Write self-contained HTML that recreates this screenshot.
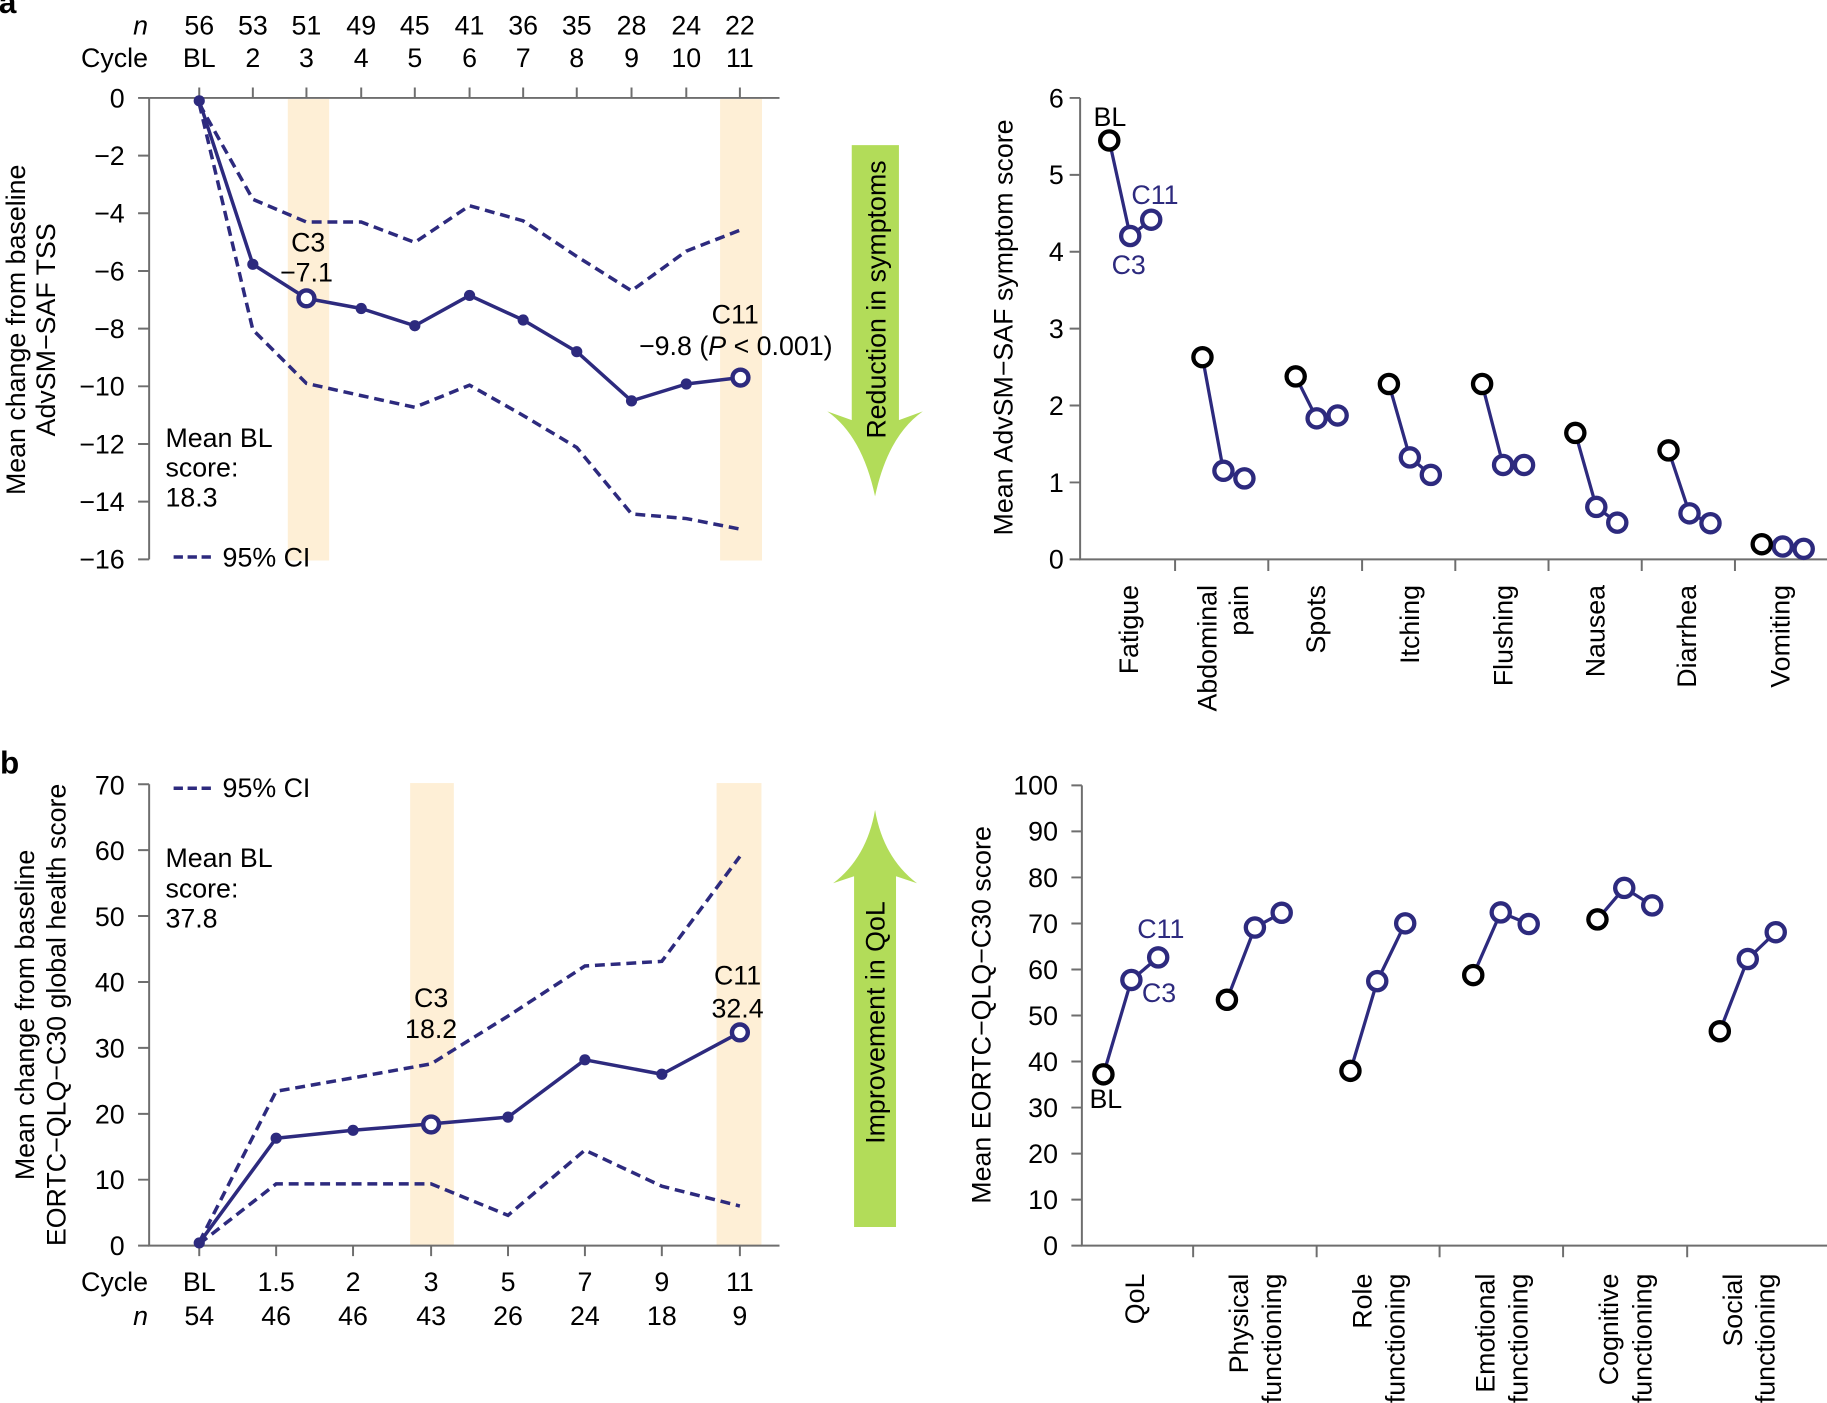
<!DOCTYPE html>
<html>
<head>
<meta charset="utf-8">
<style>
html,body{margin:0;padding:0;background:#fff;}
svg{display:block;}
text{font-family:"Liberation Sans",Arial,sans-serif;font-size:23px;fill:#000;}
.blue{fill:#2d2a7e;}
.ax{stroke:#6e6e6e;stroke-width:1.7;fill:none;}
.ml{stroke:#2d2a7e;stroke-width:3;fill:none;stroke-linejoin:round;}
.ci{stroke:#2d2a7e;stroke-width:3;fill:none;stroke-dasharray:8.5 5;}
.dot{fill:#2d2a7e;}
.oc{fill:#fff;stroke:#2d2a7e;stroke-width:3.8;}
.rl{stroke:#2d2a7e;stroke-width:2.8;fill:none;}
.bc{fill:#fff;stroke:#000;stroke-width:3.7;}
.bb{fill:#fff;stroke:#2d2a7e;stroke-width:3.7;}
.bar{fill:#feefd6;}
.arr{fill:#b2dc59;}
</style>
</head>
<body>
<svg width="1827" height="1403" viewBox="0 0 1568 1204" xmlns="http://www.w3.org/2000/svg">
<rect x="0" y="0" width="1568" height="1204" fill="#fff"/>

<!-- ================= PANEL A LEFT ================= -->
<text x="-1" y="11" style="font-weight:bold;font-size:27px">a</text>

<rect class="bar" x="247" y="85" width="35.5" height="396"/>
<rect class="bar" x="618" y="85" width="36" height="396"/>

<!-- top axis -->
<path class="ax" d="M128,84 H669 M128,84 V480"/>
<path class="ax" d="M171,84 V75 M217,84 V75 M263,84 V75 M310,84 V75 M356,84 V75 M403,84 V75 M449,84 V75 M495,84 V75 M542,84 V75 M589,84 V75 M635,84 V75"/>
<path class="ax" d="M118.5,84 H128 M118.5,133.5 H128 M118.5,183 H128 M118.5,232.5 H128 M118.5,282 H128 M118.5,331.5 H128 M118.5,381 H128 M118.5,430.5 H128 M118.5,480 H128"/>

<g text-anchor="end">
<text x="107" y="92">0</text>
<text x="107" y="141.5">−2</text>
<text x="107" y="191">−4</text>
<text x="107" y="240.5">−6</text>
<text x="107" y="290">−8</text>
<text x="107" y="339.5">−10</text>
<text x="107" y="389">−12</text>
<text x="107" y="438.5">−14</text>
<text x="107" y="488">−16</text>
<text x="127" y="29.5" style="font-style:italic">n</text>
<text x="127" y="57.5">Cycle</text>
</g>
<g text-anchor="middle">
<text x="171" y="29.5">56</text><text x="217" y="29.5">53</text><text x="263" y="29.5">51</text><text x="310" y="29.5">49</text><text x="356" y="29.5">45</text><text x="403" y="29.5">41</text><text x="449" y="29.5">36</text><text x="495" y="29.5">35</text><text x="542" y="29.5">28</text><text x="589" y="29.5">24</text><text x="635" y="29.5">22</text>
<text x="171" y="57.5">BL</text><text x="217" y="57.5">2</text><text x="263" y="57.5">3</text><text x="310" y="57.5">4</text><text x="356" y="57.5">5</text><text x="403" y="57.5">6</text><text x="449" y="57.5">7</text><text x="495" y="57.5">8</text><text x="542" y="57.5">9</text><text x="589" y="57.5">10</text><text x="635" y="57.5">11</text>
</g>

<!-- CI lines -->
<polyline class="ci" points="171,89 217,171 263,190.5 310,190.5 356,208 403,176.5 449,189.5 495,220 542,249.5 589,215.5 635,197.5"/>
<polyline class="ci" points="171,89 217,283 263,329 310,339.5 356,349.5 403,330.5 449,356.5 495,384 542,441 589,445 635,454"/>
<!-- main -->
<polyline class="ml" points="171,86.5 217,226.8 263,256 310,264.7 356,279.5 403,253.5 449,274.6 495,301.8 542,344 589,329.5 635,324"/>
<circle class="dot" cx="171" cy="86.5" r="4.8"/>
<circle class="dot" cx="217" cy="226.8" r="4.8"/>
<circle class="dot" cx="310" cy="264.7" r="4.8"/>
<circle class="dot" cx="356" cy="279.5" r="4.8"/>
<circle class="dot" cx="403" cy="253.5" r="4.8"/>
<circle class="dot" cx="449" cy="274.6" r="4.8"/>
<circle class="dot" cx="495" cy="301.8" r="4.8"/>
<circle class="dot" cx="542" cy="344" r="4.8"/>
<circle class="dot" cx="589" cy="329.5" r="4.8"/>
<circle class="oc" cx="263" cy="256" r="6.8"/>
<circle class="oc" cx="635.5" cy="324" r="6.8"/>

<g text-anchor="middle">
<text x="264.5" y="216">C3</text>
<text x="263" y="241.5">−7.1</text>
<text x="631" y="277.5">C11</text>
<text x="631.5" y="304.5">−9.8 (<tspan style="font-style:italic">P</tspan> &lt; 0.001)</text>
</g>
<text x="142" y="383.5">Mean BL</text>
<text x="142" y="409">score:</text>
<text x="142" y="434.5">18.3</text>
<path d="M149,478 H181" stroke="#2d2a7e" stroke-width="3" stroke-dasharray="8 4"/>
<text x="191" y="486">95% CI</text>

<g text-anchor="middle">
<text transform="translate(21.5,283) rotate(-90)">Mean change from baseline</text>
<text transform="translate(47,283) rotate(-90)">AdvSM−SAF TSS</text>
</g>

<!-- Down arrow -->
<path class="arr" d="M731,124.5 L771.5,124.5 L771.5,360.5 L792,353 Q762,374 751,426 Q740,374 710,353 L731,360.5 Z"/>
<text transform="translate(760,257) rotate(-90)" text-anchor="middle">Reduction in symptoms</text>

<!-- ================= PANEL A RIGHT ================= -->
<path class="ax" d="M927,84 V480 H1568"/>
<path class="ax" d="M918,84 H927 M918,150 H927 M918,216 H927 M918,282 H927 M918,348 H927 M918,414 H927 M918,480 H927"/>
<path class="ax" d="M1008.5,480 V490 M1088.5,480 V490 M1169,480 V490 M1249,480 V490 M1329,480 V490 M1409,480 V490 M1489,480 V490"/>
<g text-anchor="end">
<text x="913" y="92">6</text>
<text x="913" y="158">5</text>
<text x="913" y="224">4</text>
<text x="913" y="290">3</text>
<text x="913" y="356">2</text>
<text x="913" y="422">1</text>
<text x="913" y="488">0</text>
</g>
<text transform="translate(869,281) rotate(-90)" text-anchor="middle">Mean AdvSM−SAF symptom score</text>

<g text-anchor="end">
<text transform="translate(976.5,502) rotate(-90)">Fatigue</text>
<text transform="translate(1044,502) rotate(-90)">Abdominal</text>
<text transform="translate(1071,502) rotate(-90)">pain</text>
<text transform="translate(1137,502) rotate(-90)">Spots</text>
<text transform="translate(1218,502) rotate(-90)">Itching</text>
<text transform="translate(1298,502) rotate(-90)">Flushing</text>
<text transform="translate(1377,502) rotate(-90)">Nausea</text>
<text transform="translate(1455.5,502) rotate(-90)">Diarrhea</text>
<text transform="translate(1536,502) rotate(-90)">Vomiting</text>
</g>

<!-- series -->
<polyline class="rl" points="952,120.5 970,202.5 988,188.5"/>
<polyline class="rl" points="1032,306.5 1050,404 1068,410.5"/>
<polyline class="rl" points="1112,323 1130,359 1148,356.5"/>
<polyline class="rl" points="1192,329.5 1210,392.5 1228,407.5"/>
<polyline class="rl" points="1272,329.5 1290,399 1308,399"/>
<polyline class="rl" points="1352,371.5 1370,435 1388,448.5"/>
<polyline class="rl" points="1432,386.5 1450,440.5 1468,449"/>
<polyline class="rl" points="1512,467 1530,469 1548,471"/>

<circle class="bb" cx="970" cy="202.5" r="7.8"/><circle class="bb" cx="988" cy="188.5" r="7.8"/><circle class="bc" cx="952" cy="120.5" r="7.8"/>
<circle class="bb" cx="1050" cy="404" r="7.8"/><circle class="bb" cx="1068" cy="410.5" r="7.8"/><circle class="bc" cx="1032" cy="306.5" r="7.8"/>
<circle class="bb" cx="1130" cy="359" r="7.8"/><circle class="bb" cx="1148" cy="356.5" r="7.8"/><circle class="bc" cx="1112" cy="323" r="7.8"/>
<circle class="bb" cx="1210" cy="392.5" r="7.8"/><circle class="bb" cx="1228" cy="407.5" r="7.8"/><circle class="bc" cx="1192" cy="329.5" r="7.8"/>
<circle class="bb" cx="1290" cy="399" r="7.8"/><circle class="bb" cx="1308" cy="399" r="7.8"/><circle class="bc" cx="1272" cy="329.5" r="7.8"/>
<circle class="bb" cx="1370" cy="435" r="7.8"/><circle class="bb" cx="1388" cy="448.5" r="7.8"/><circle class="bc" cx="1352" cy="371.5" r="7.8"/>
<circle class="bb" cx="1450" cy="440.5" r="7.8"/><circle class="bb" cx="1468" cy="449" r="7.8"/><circle class="bc" cx="1432" cy="386.5" r="7.8"/>
<circle class="bb" cx="1548" cy="471" r="7.8"/><circle class="bb" cx="1530" cy="469" r="7.8"/><circle class="bc" cx="1512" cy="467" r="7.8"/>

<text x="938.5" y="108">BL</text>
<text x="971" y="175" class="blue">C11</text>
<text x="954" y="235" class="blue">C3</text>

<!-- ================= PANEL B LEFT ================= -->
<text x="0" y="664" style="font-weight:bold;font-size:27px">b</text>

<rect class="bar" x="352" y="672" width="37.5" height="397"/>
<rect class="bar" x="615" y="672" width="38.5" height="397"/>

<path class="ax" d="M128,673 V1069 H669"/>
<path class="ax" d="M118.5,673 H128 M118.5,729.6 H128 M118.5,786.1 H128 M118.5,842.7 H128 M118.5,899.3 H128 M118.5,955.9 H128 M118.5,1012.4 H128 M118.5,1069 H128"/>
<path class="ax" d="M171,1069 V1078 M237,1069 V1078 M303,1069 V1078 M370,1069 V1078 M436,1069 V1078 M502,1069 V1078 M568,1069 V1078 M635,1069 V1078"/>
<g text-anchor="end">
<text x="107" y="682">70</text>
<text x="107" y="738">60</text>
<text x="107" y="794.5">50</text>
<text x="107" y="851">40</text>
<text x="107" y="907.5">30</text>
<text x="107" y="964">20</text>
<text x="107" y="1020.5">10</text>
<text x="107" y="1077">0</text>
<text x="127" y="1108">Cycle</text>
<text x="127" y="1137" style="font-style:italic">n</text>
</g>
<g text-anchor="middle">
<text x="171" y="1108">BL</text><text x="237" y="1108">1.5</text><text x="303" y="1108">2</text><text x="370" y="1108">3</text><text x="436" y="1108">5</text><text x="502" y="1108">7</text><text x="568" y="1108">9</text><text x="635" y="1108">11</text>
<text x="171" y="1137">54</text><text x="237" y="1137">46</text><text x="303" y="1137">46</text><text x="370" y="1137">43</text><text x="436" y="1137">26</text><text x="502" y="1137">24</text><text x="568" y="1137">18</text><text x="635" y="1137">9</text>
</g>

<polyline class="ci" points="171,1066 237,936.5 303,925 370,913 436,872 502,829 568,825 635,735"/>
<polyline class="ci" points="171,1067.5 237,1016 303,1016 370,1016 436,1043 502,987 568,1018 635,1035"/>
<polyline class="ml" points="171,1066.7 237,976.8 303,970 370,964.5 436,958.7 502,909.5 568,921.9 635,886"/>
<circle class="dot" cx="171" cy="1066.7" r="4.8"/>
<circle class="dot" cx="237" cy="976.8" r="4.8"/>
<circle class="dot" cx="303" cy="970" r="4.8"/>
<circle class="dot" cx="436" cy="958.7" r="4.8"/>
<circle class="dot" cx="502" cy="909.5" r="4.8"/>
<circle class="dot" cx="568" cy="921.9" r="4.8"/>
<circle class="oc" cx="370" cy="965" r="6.8"/>
<circle class="oc" cx="635" cy="886" r="6.8"/>

<g text-anchor="middle">
<text x="370" y="864">C3</text>
<text x="370" y="891">18.2</text>
<text x="633" y="845">C11</text>
<text x="633" y="873">32.4</text>
</g>
<path d="M149,676.5 H181" stroke="#2d2a7e" stroke-width="3" stroke-dasharray="8 4"/>
<text x="191" y="684">95% CI</text>
<text x="142" y="744">Mean BL</text>
<text x="142" y="770">score:</text>
<text x="142" y="796">37.8</text>

<g text-anchor="middle">
<text transform="translate(29,871) rotate(-90)">Mean change from baseline</text>
<text transform="translate(56,871) rotate(-90)">EORTC−QLQ−C30 global health score</text>
</g>

<!-- Up arrow -->
<path class="arr" d="M733,1053 L769,1053 L769,752 L787,758 Q758,736 751,695 Q744,736 715,758 L733,752 Z"/>
<text transform="translate(759,877.5) rotate(-90)" text-anchor="middle">Improvement in QoL</text>

<!-- ================= PANEL B RIGHT ================= -->
<path class="ax" d="M928.5,674 V1069 H1568"/>
<path class="ax" d="M919.5,674 H928.5 M919.5,713.5 H928.5 M919.5,753 H928.5 M919.5,792.5 H928.5 M919.5,832 H928.5 M919.5,871.5 H928.5 M919.5,911 H928.5 M919.5,950.5 H928.5 M919.5,990 H928.5 M919.5,1029.5 H928.5 M919.5,1069 H928.5"/>
<path class="ax" d="M1024,1069 V1079 M1130,1069 V1079 M1235.5,1069 V1079 M1341.5,1069 V1079 M1448,1069 V1079"/>
<g text-anchor="end">
<text x="908" y="682">100</text>
<text x="908" y="721.5">90</text>
<text x="908" y="761">80</text>
<text x="908" y="800.5">70</text>
<text x="908" y="840">60</text>
<text x="908" y="879.5">50</text>
<text x="908" y="919">40</text>
<text x="908" y="958.5">30</text>
<text x="908" y="998">20</text>
<text x="908" y="1037.5">10</text>
<text x="908" y="1077">0</text>
</g>
<text transform="translate(850,871) rotate(-90)" text-anchor="middle">Mean EORTC−QLQ−C30 score</text>

<g text-anchor="end">
<text transform="translate(982,1093) rotate(-90)">QoL</text>
<text transform="translate(1071,1093) rotate(-90)">Physical</text>
<text transform="translate(1099.5,1093) rotate(-90)">functioning</text>
<text transform="translate(1177,1093) rotate(-90)">Role</text>
<text transform="translate(1205.5,1093) rotate(-90)">functioning</text>
<text transform="translate(1282.5,1093) rotate(-90)">Emotional</text>
<text transform="translate(1311,1093) rotate(-90)">functioning</text>
<text transform="translate(1388.5,1093) rotate(-90)">Cognitive</text>
<text transform="translate(1417.5,1093) rotate(-90)">functioning</text>
<text transform="translate(1495,1093) rotate(-90)">Social</text>
<text transform="translate(1523,1093) rotate(-90)">functioning</text>
</g>

<polyline class="rl" points="947,922 971,841 994,821.6"/>
<polyline class="rl" points="1053,858 1077,796 1100,783.3"/>
<polyline class="rl" points="1159,919 1182,842 1206,792.4"/>
<polyline class="rl" points="1264.4,836.8 1288,783 1312,793"/>
<polyline class="rl" points="1371,789 1394,762 1418,777"/>
<polyline class="rl" points="1476,885 1500,823 1524,800"/>

<circle class="bb" cx="971" cy="841" r="7.8"/><circle class="bb" cx="994" cy="821.6" r="7.8"/><circle class="bc" cx="947" cy="922" r="7.8"/>
<circle class="bb" cx="1077" cy="796" r="7.8"/><circle class="bb" cx="1100" cy="783.3" r="7.8"/><circle class="bc" cx="1053" cy="858" r="7.8"/>
<circle class="bb" cx="1182" cy="842" r="7.8"/><circle class="bb" cx="1206" cy="792.4" r="7.8"/><circle class="bc" cx="1159" cy="919" r="7.8"/>
<circle class="bb" cx="1288" cy="783" r="7.8"/><circle class="bb" cx="1312" cy="793" r="7.8"/><circle class="bc" cx="1264.4" cy="836.8" r="7.8"/>
<circle class="bb" cx="1394" cy="762" r="7.8"/><circle class="bb" cx="1418" cy="777" r="7.8"/><circle class="bc" cx="1371" cy="789" r="7.8"/>
<circle class="bb" cx="1500" cy="823" r="7.8"/><circle class="bb" cx="1524" cy="800" r="7.8"/><circle class="bc" cx="1476" cy="885" r="7.8"/>

<text x="976" y="805" class="blue">C11</text>
<text x="980" y="860" class="blue">C3</text>
<text x="935" y="951">BL</text>

</svg>
</body>
</html>
